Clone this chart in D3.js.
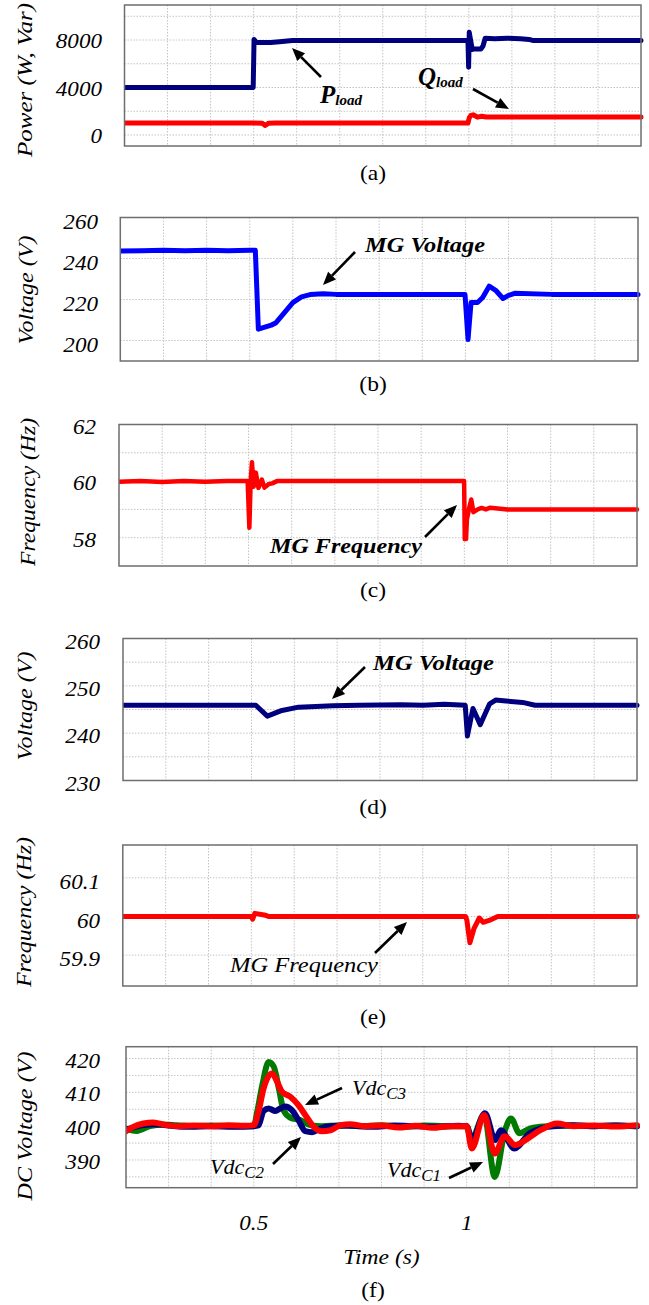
<!DOCTYPE html>
<html><head><meta charset="utf-8">
<script src="https://cdn.jsdelivr.net/npm/d3@7"></script>
<style>
body{margin:0;background:#fff;}
svg{display:block;}
</style></head>
<body>
<svg id="chart" width="649" height="1305"></svg>
<script>
// ---------------- DATA ----------------
const timeDomain = [0.2, 1.4];
const gridTimes = [0.3,0.4,0.5,0.6,0.7,0.8,0.9,1.0,1.1,1.2,1.3];
const xTickValues = [0.5, 1];
const xTickLabels = ["0.5", "1"];

// (a) Power
const pTime = [0.2,0.3,0.4,0.499,0.501,0.506,0.51,0.54,0.56,0.59,0.7,0.8,0.9,0.998,0.9995,1.001,1.004,1.008,1.012,1.028,1.033,1.038,1.06,1.09,1.12,1.14,1.15,1.2,1.3,1.4];
const pVal  = [4000,4000,4000,4000,8050,7800,7780,7800,7860,7950,7950,7950,7950,7950,5700,8650,8000,7200,7250,7250,7500,8150,8100,8150,8100,8050,7950,7950,7950,7950];
const qTime = [0.2,0.3,0.4,0.5,0.52,0.527,0.535,0.55,0.7,0.9,0.998,1.001,1.005,1.01,1.02,1.03,1.04,1.2,1.4];
const qVal  = [1000,1000,1000,1000,990,800,990,1000,1000,1000,1000,1450,1650,1700,1500,1580,1520,1520,1520];
const aTicks = [0, 4000, 8000];
const aGrid = [0,2000,4000,6000,8000,10000];

// (b) MG voltage
const vbTime = [0.2,0.25,0.3,0.35,0.4,0.45,0.5,0.513,0.52,0.55,0.56,0.58,0.6,0.62,0.64,0.67,0.7,0.8,0.9,0.999,1.003,1.006,1.013,1.028,1.04,1.055,1.07,1.087,1.1,1.114,1.2,1.3,1.4];
const vbVal  = [243.6,243.8,244.0,243.8,244.0,243.8,244.0,244.0,205.5,207.5,208.5,213.5,218.5,221.3,222.4,222.8,222.5,222.5,222.5,222.5,210,200.5,218.5,218.5,221,226.5,224.5,220.5,222,223,222.5,222.5,222.5];
const bTicks = [200, 220, 240, 260];
const bGrid = [200, 220, 240];

// (c) MG frequency
const fcTime = [0.2,0.25,0.3,0.35,0.4,0.45,0.498,0.502,0.505,0.508,0.512,0.517,0.523,0.531,0.537,0.547,0.555,0.566,0.6,0.7,0.8,0.9,0.9995,1.001,1.004,1.006,1.012,1.016,1.021,1.031,1.04,1.05,1.06,1.1,1.2,1.3,1.4];
const fcVal  = [59.98,60.0,59.97,60.0,59.98,60.0,60.0,58.35,60.0,60.67,59.8,60.3,59.76,60.05,59.77,59.9,59.92,60.0,60.0,60.0,60.0,60.0,60.0,57.95,57.95,58.65,59.1,59.35,58.9,59.0,59.05,59.0,59.06,59.0,59.0,59.0,59.0];
const cTicks = [58, 60, 62];
const cGrid = [58, 59, 60, 61];

// (d) MG voltage
const vdTime = [0.2,0.3,0.4,0.5,0.51,0.537,0.571,0.61,0.69,0.75,0.85,0.9,0.95,0.999,1.004,1.017,1.034,1.056,1.07,1.094,1.133,1.162,1.2,1.3,1.4];
const vdVal  = [245.9,245.9,245.9,245.9,245.9,243.6,244.8,245.5,245.8,245.9,246.0,245.9,246.1,245.9,239.4,245.2,241.8,246.2,247.0,246.8,246.5,245.9,245.9,245.9,245.9];
const dTicks = [230, 240, 250, 260];
const dGrid = [235, 240, 245, 250, 255];

// (e) MG frequency
const feTime = [0.2,0.3,0.4,0.5,0.503,0.508,0.53,0.54,0.7,0.9,1.0,1.003,1.01,1.02,1.032,1.041,1.06,1.075,1.2,1.4];
const feVal  = [60.0,60.0,60.0,60.0,59.993,60.008,60.004,60.0,60.0,60.0,60.0,59.99,59.932,59.97,59.996,59.985,59.992,60.0,60.0,60.0];
const eTicks = [59.9, 60, 60.1];
const eTickLabels = ["59.9", "60", "60.1"];
const eGrid = [59.9, 60.0, 60.1];

// (f) DC voltages
const c1Time = [0.2,0.225,0.256,0.287,0.319,0.36,0.4,0.45,0.5,0.508,0.52,0.535,0.547,0.559,0.57,0.586,0.609,0.633,0.66,0.7,0.75,0.8,0.85,0.9,0.95,1.0,1.012,1.041,1.066,1.09,1.104,1.124,1.148,1.173,1.2,1.25,1.3,1.35,1.4];
const c1Val  = [399.3,398.6,400.0,400.5,400.3,400.0,400.2,400.0,400.0,404.2,412.1,419.0,417.6,411.1,404.7,402.5,401.8,400.3,400.0,400.2,400.0,400.3,399.8,400.2,400.0,400.0,396.4,403.3,385.0,398.8,402.3,397.9,399.3,399.8,400.0,400.2,400.0,400.2,400.0];
const c2Time = [0.2,0.241,0.264,0.3,0.35,0.4,0.45,0.5,0.511,0.523,0.535,0.551,0.562,0.574,0.589,0.605,0.621,0.637,0.656,0.68,0.72,0.78,0.83,0.88,0.93,0.98,1.0,1.012,1.043,1.067,1.08,1.112,1.148,1.173,1.2,1.25,1.3,1.35,1.4];
const c2Val  = [399.0,400.3,400.6,400.2,399.8,400.0,399.8,400.0,400.2,404.5,405.2,404.5,405.2,405.8,404.8,401.8,398.5,398.2,399.3,400.0,400.2,399.8,400.2,400.0,399.8,400.1,400.0,395.9,403.8,395.9,398.8,393.4,397.9,399.3,400.0,400.3,400.0,400.2,400.0];
const c3Time = [0.2,0.217,0.241,0.264,0.295,0.326,0.36,0.4,0.44,0.48,0.5,0.511,0.523,0.543,0.555,0.566,0.586,0.605,0.621,0.641,0.66,0.68,0.704,0.727,0.76,0.8,0.84,0.88,0.92,0.96,1.0,1.012,1.041,1.066,1.089,1.114,1.144,1.173,1.212,1.251,1.3,1.35,1.4];
const c3Val  = [398.5,399.8,400.8,401.1,400.3,400.0,400.2,400.0,400.3,400.1,400.3,404.2,411.1,415.6,413.1,410.2,408.7,406.2,403.3,399.8,398.5,398.8,400.3,400.6,400.0,400.2,399.6,400.1,399.5,400.0,400.0,393.4,403.3,391.9,397.0,394.4,396.4,398.8,400.8,400.0,400.2,399.9,400.3];
const fTicks = [390, 400, 410, 420];
const fGrid = [385, 390, 395, 400, 405, 410, 415, 420];

// ---------------- CHART ----------------
const FONT = "Liberation Serif";
const svg = d3.select("#chart");
svg.append("rect").attr("width",649).attr("height",1305).attr("fill","#fff");
const NAVY = "#00007f", BLUE = "#0000ff", RED = "#ff0000", GREEN = "#007a00";

const zip = (t, v) => t.map((d,i)=>({t:d, v:v[i]}));

const panels = [
  {left:124.5,right:641,top:5,bottom:146,domain:[-930,10950],grid:aGrid,ticks:aTicks,labels:aTicks.map(String),labX:102,labDy:1,
   title:"Power (W, Var)",titleX:25,titleY:80,titleLen:154,cap:"(a)",capY:173,
   series:[{d:zip(qTime,qVal),c:RED,w:5},{d:zip(pTime,pVal),c:NAVY,w:5}]},
  {left:120.3,right:638,top:217.5,bottom:361,domain:[190,260],grid:bGrid,ticks:bTicks,labels:bTicks.map(String),labX:98,labDy:4,
   title:"Voltage (V)",titleX:26,titleY:290,titleLen:109,cap:"(b)",capY:384,
   series:[{d:zip(vbTime,vbVal),c:BLUE,w:5}]},
  {left:119,right:637,top:424.5,bottom:566,domain:[57,62],grid:cGrid,ticks:cTicks,labels:cTicks.map(String),labX:96,labDy:2,
   title:"Frequency (Hz)",titleX:28,titleY:492,titleLen:148,cap:"(c)",capY:590,
   series:[{d:zip(fcTime,fcVal),c:RED,w:4.5}]},
  {left:123,right:637,top:638.5,bottom:780.5,domain:[230,260],grid:dGrid,ticks:dTicks,labels:dTicks.map(String),labX:100,labDy:3,
   title:"Voltage (V)",titleX:25,titleY:706,titleLen:109,cap:"(d)",capY:807,
   series:[{d:zip(vdTime,vdVal),c:NAVY,w:5}]},
  {left:122.8,right:637,top:845,bottom:986,domain:[59.82,60.185],grid:eGrid,ticks:eTicks,labels:eTickLabels,labX:100,labDy:4,
   title:"Frequency (Hz)",titleX:24,titleY:912,titleLen:150,cap:"(e)",capY:1017,
   series:[{d:zip(feTime,feVal),c:RED,w:5}]},
  {left:126,right:637,top:1046.7,bottom:1187.7,domain:[381.8,423.5],grid:fGrid,ticks:fTicks,labels:fTicks.map(String),labX:100,labDy:2,
   title:"DC Voltage (V)",titleX:25,titleY:1126,titleLen:149,cap:"(f)",capY:1290,smooth:true,
   series:[{d:zip(c1Time,c1Val),c:GREEN,w:6},{d:zip(c2Time,c2Val),c:NAVY,w:6},{d:zip(c3Time,c3Val),c:RED,w:6}]}
];

panels.forEach((p, idx) => {
  const x = d3.scaleLinear().domain(timeDomain).range([p.left, p.right]);
  const y = d3.scaleLinear().domain(p.domain).range([p.bottom, p.top]);
  p.x = x; p.y = y;
  const g = svg.append("g");
  const grid = g.append("g").attr("stroke","#c4c4c4").attr("stroke-width",1).attr("stroke-dasharray","1.5,1.5");
  grid.selectAll("line.v").data(gridTimes).join("line").attr("class","v")
    .attr("x1",d=>x(d)).attr("x2",d=>x(d)).attr("y1",p.top).attr("y2",p.bottom);
  grid.selectAll("line.h").data(p.grid).join("line").attr("class","h")
    .attr("x1",p.left).attr("x2",p.right).attr("y1",d=>y(d)).attr("y2",d=>y(d));
  const cid = "clip"+idx;
  svg.append("clipPath").attr("id",cid).append("rect")
    .attr("x",p.left).attr("y",p.top-3).attr("width",p.right-p.left+3).attr("height",p.bottom-p.top+6);
  const line = d3.line().x(d=>x(d.t)).y(d=>y(d.v)).curve(p.smooth ? d3.curveMonotoneX : d3.curveLinear);
  p.series.forEach(s => {
    g.append("path").attr("clip-path",`url(#${cid})`).attr("d", line(s.d)).attr("fill","none")
      .attr("stroke", s.c).attr("stroke-width", s.w).attr("stroke-linejoin","round").attr("stroke-linecap","round");
  });
  g.append("rect").attr("x",p.left).attr("y",p.top).attr("width",p.right-p.left).attr("height",p.bottom-p.top)
    .attr("fill","none").attr("stroke","#6e6e6e").attr("stroke-width",1.5);
  g.selectAll("text.yt").data(p.ticks).join("text").attr("class","yt")
    .attr("transform", d=>`translate(${p.labX},${y(d)+p.labDy}) scale(1.1,1)`)
    .attr("text-anchor","end").attr("dominant-baseline","central")
    .attr("font-family",FONT).attr("font-style","italic").attr("font-size",21)
    .text((d,i)=>p.labels[i]);
  g.append("text").attr("transform",`translate(${p.titleX},${p.titleY}) rotate(-90)`)
    .attr("text-anchor","middle").attr("dominant-baseline","central")
    .attr("font-family",FONT).attr("font-style","italic").attr("font-size",21)
    .attr("textLength",p.titleLen).attr("lengthAdjust","spacingAndGlyphs")
    .text(p.title);
  g.append("text").attr("transform",`translate(373,${p.capY}) scale(1.12,1)`)
    .attr("text-anchor","middle").attr("dominant-baseline","central")
    .attr("font-family",FONT).attr("font-size",21).text(p.cap);
});

const pf = panels[5];
svg.selectAll("text.xt").data(xTickValues).join("text").attr("class","xt")
  .attr("transform",(d)=>`translate(${pf.x(d)},1223) scale(1.1,1)`)
  .attr("text-anchor","middle").attr("dominant-baseline","central")
  .attr("font-family",FONT).attr("font-style","italic").attr("font-size",21)
  .text((d,i)=>xTickLabels[i]);
svg.append("text").attr("transform",`translate(${(pf.left+pf.right)/2},1257) scale(1.12,1)`)
  .attr("text-anchor","middle").attr("dominant-baseline","central")
  .attr("font-family",FONT).attr("font-style","italic").attr("font-size",21).text("Time (s)");

// ---------------- ANNOTATIONS ----------------
function arrow(x1,y1,x2,y2){
  const ang = Math.atan2(y2-y1, x2-x1), L=13, Wd=5.5;
  const bx = x2 - L*Math.cos(ang), by = y2 - L*Math.sin(ang);
  svg.append("line").attr("x1",x1).attr("y1",y1).attr("x2",bx).attr("y2",by)
    .attr("stroke","#000").attr("stroke-width",2.6);
  const px = -Math.sin(ang)*Wd, py = Math.cos(ang)*Wd;
  svg.append("path").attr("d",`M${x2},${y2}L${bx+px},${by+py}L${bx-px},${by-py}Z`).attr("fill","#000");
}
function label(x, y, main, sub, opt){
  const t = svg.append("text").attr("x",x).attr("y",y).attr("font-family",FONT).attr("font-style","italic")
    .attr("font-weight",opt.bold?"bold":"normal").attr("font-size",opt.size);
  if (opt.len) t.attr("textLength",opt.len).attr("lengthAdjust","spacingAndGlyphs");
  t.append("tspan").text(main);
  if (sub) t.append("tspan").attr("font-size",opt.subSize).attr("dy",opt.subDy).text(sub);
}
label(320,103,"P","load",{bold:true,size:25,subSize:15,subDy:2});
arrow(321,77,292,48);
label(418,85,"Q","load",{bold:true,size:25,subSize:15,subDy:2});
arrow(473,89,509,109);
label(365,252,"MG Voltage",null,{bold:true,size:22,len:120});
arrow(355,252,323,285);
label(270,553,"MG Frequency",null,{bold:true,size:22,len:152});
arrow(425,537,457,505);
label(373,670,"MG Voltage",null,{bold:true,size:22,len:121});
arrow(365,667,332,699);
label(230,972,"MG Frequency",null,{bold:false,size:22,len:148});
arrow(375,953,407,922);
label(352,1095,"Vdc","C3",{bold:false,size:22,subSize:17,subDy:4});
arrow(342,1088,305,1105);
label(210,1174,"Vdc","C2",{bold:false,size:22,subSize:17,subDy:4});
arrow(273,1164,301,1137);
label(387,1177,"Vdc","C1",{bold:false,size:22,subSize:17,subDy:4});
arrow(449,1178,483,1162);
</script>
</body></html>
